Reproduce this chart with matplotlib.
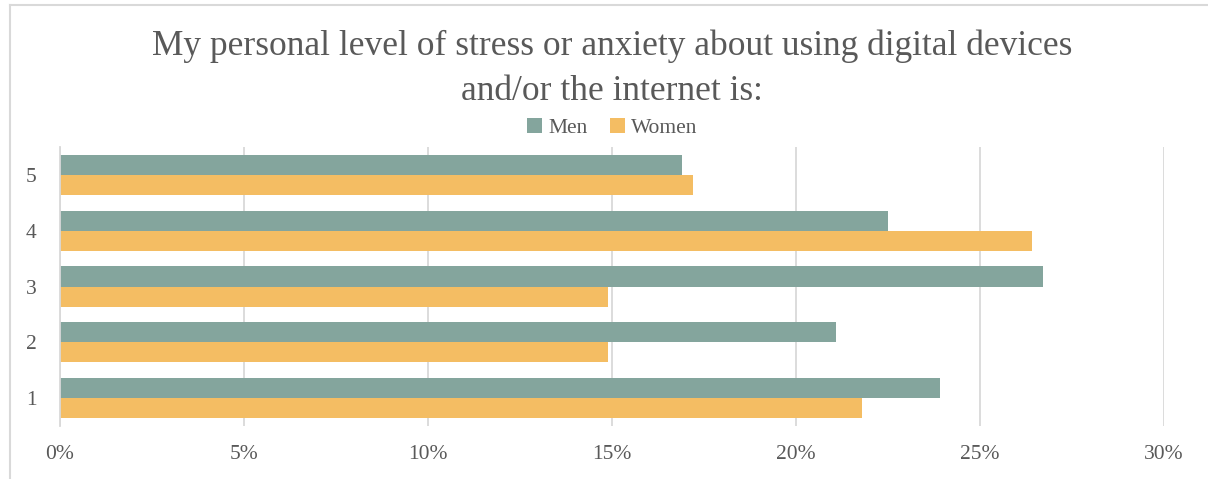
import matplotlib.pyplot as plt
import numpy as np
from matplotlib.lines import Line2D

categories = ["1", "2", "3", "4", "5"]
men = [23.9, 21.1, 26.7, 22.5, 16.9]
women = [21.8, 14.9, 14.9, 26.4, 17.2]
xticks = [0, 5, 10, 15, 20, 25, 30]

plt.rcParams['font.family'] = ['Liberation Serif', 'DejaVu Serif']
grey = '#595959'

fig = plt.figure(figsize=(12.08, 4.79), dpi=100)
ax = fig.add_axes([60 / 1208, 1 - 426 / 479, 1104 / 1208, 279 / 479])

y = np.arange(len(categories))
h = 0.36
ax.barh(y + h / 2, men, height=h, color='#84a59d', label='Men')
ax.barh(y - h / 2, women, height=h, color='#f4bd63', label='Women')

ax.set_ylim(-0.5, len(categories) - 0.5)
ax.set_xlim(0, 30)
ax.set_xticks(xticks)
ax.set_xticklabels([f"{t}%" for t in xticks])
ax.set_yticks(y)
ax.set_yticklabels(categories)
ax.tick_params(axis='x', length=0, pad=14, labelsize=15.5, labelcolor=grey)
ax.tick_params(axis='y', length=0, pad=17, labelsize=15.5, labelcolor=grey)
ax.grid(axis='x', color='#d9d9d9', linewidth=1.3)
ax.set_axisbelow(True)
for s in ['top', 'right', 'bottom']:
    ax.spines[s].set_visible(False)
ax.spines['left'].set_color('#d9d9d9')
ax.spines['left'].set_linewidth(1.3)

fig.text(0.5066, 1 - 46 / 479, "My personal level of stress or anxiety about using digital devices",
         ha='center', va='center', fontsize=25.5, color=grey)
fig.text(0.5066, 1 - 91 / 479, "and/or the internet is:",
         ha='center', va='center', fontsize=25.5, color=grey)

handles, labels = ax.get_legend_handles_labels()
fig.legend(handles, labels, loc='center', bbox_to_anchor=(0.507, 1 - 128 / 479), ncol=2,
           frameon=False, fontsize=15.5, labelcolor=grey, handlelength=0.7, handleheight=0.7,
           handletextpad=0.3, columnspacing=1.0)

# chart frame
fig.add_artist(Line2D([10 / 1208, 1], [1 - 5 / 479, 1 - 5 / 479], color='#d9d9d9', lw=1.5))
fig.add_artist(Line2D([10 / 1208, 10 / 1208], [0, 1 - 5 / 479], color='#d9d9d9', lw=1.5))

fig.savefig('out.png', dpi=100)
